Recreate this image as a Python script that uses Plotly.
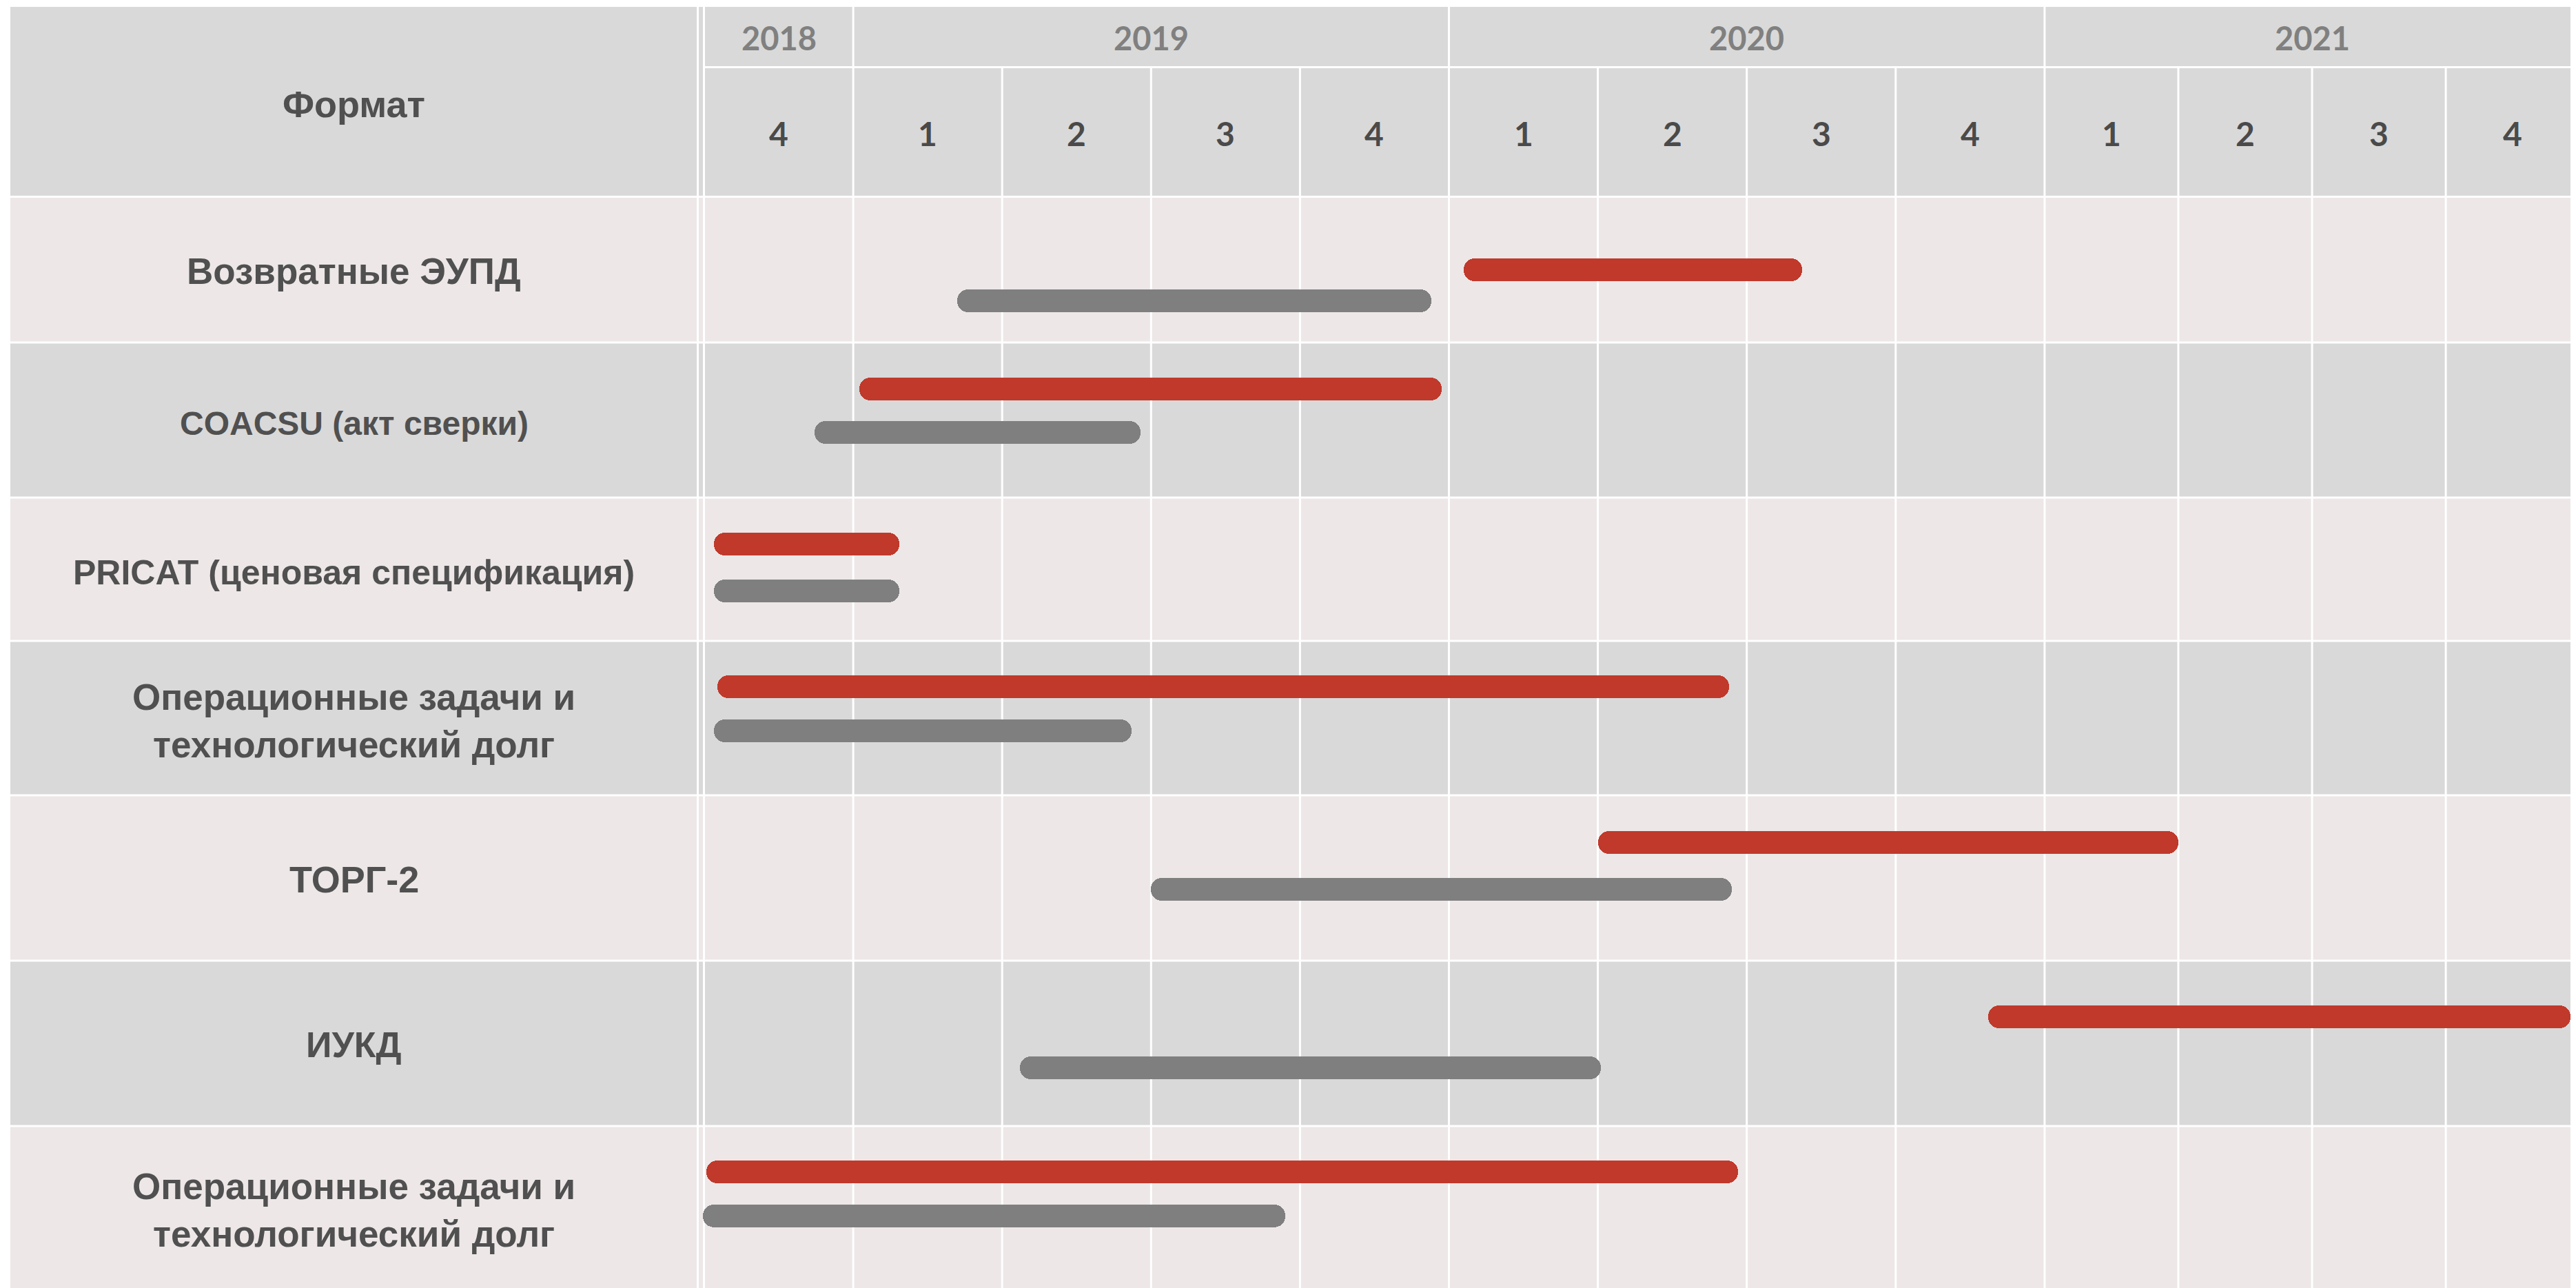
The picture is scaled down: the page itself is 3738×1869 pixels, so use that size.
import math
import plotly.graph_objects as go

# ---------------- DATA ----------------
years = ["2018", "2019", "2020", "2021"]
year_quarters = [["4"], ["1", "2", "3", "4"], ["1", "2", "3", "4"], ["1", "2", "3", "4"]]
header_title = "Формат"
tasks = [
    "Возвратные ЭУПД",
    "COACSU (акт сверки)",
    "PRICAT (ценовая спецификация)",
    "Операционные задачи и<br>технологический долг",
    "ТОРГ-2",
    "ИУКД",
    "Операционные задачи и<br>технологический долг",
]
# timeline in quarters counted from the start of 2018 Q4 (0 = start of 2018 Q4)
red_start = [5.10, 1.04, 0.065, 0.09, 6.00, 8.62, 0.015]
red_end = [7.37, 4.95, 1.31, 6.88, 10.00, 12.93, 6.94]
gray_start = [1.70, 0.74, 0.065, 0.065, 3.00, 2.12, -0.01]
gray_end = [4.88, 2.93, 1.31, 2.87, 6.90, 6.02, 3.90]

# ---------------- LAYOUT / STYLE ----------------
W, H = 3738, 1869
PAGE_OFF = 8          # browser body margin
PX_Q = 216.1          # pixels per standard quarter column
Q0_PX = 1022          # pixel where quarter area starts
TABLE_LEFT = 15
TABLE_TOP = 10
YEAR_BAND_BOTTOM = 97.5
HEADER_BOTTOM = 285.5
LEFT_COL_LINES = [1012.5, 1021.5]
COL_W = [1.0] * 9 + [0.898] * 4       # relative widths of quarter columns
ROW_EDGES = [285.5, 497, 722, 930, 1154, 1394, 1634, H + 40]
RED_Y = [391, 564, 789, 996, 1222, 1475, 1700]
GRAY_Y = [436, 627, 857, 1060, 1290, 1549, 1764]
LABEL_DY = [2, 5, 5, 4, 2, 2, 4]
LABEL_SIZE = [53, 48, 50, 53, 54, 52, 53]
BAR_T = 33

C_GRAY_CELL = "#D9D9D9"
C_PINK_CELL = "#EDE7E7"
C_RED = "#C0392B"
C_GRAYBAR = "#7F7F7F"
C_TEXT = "#505050"
C_YEAR = "#808080"
C_Q = "#4A4A4A"
LINE_W = 3

edges = [0.0]
for w in COL_W:
    edges.append(edges[-1] + w)


def disp(q):
    i = min(max(int(math.floor(q)), 0), len(COL_W) - 1)
    return edges[i] + (q - i) * COL_W[i]


def px_to_x(px):
    return (px - Q0_PX) / PX_Q


fig = go.Figure()

for starts, ends, ys, col in [(red_start, red_end, RED_Y, C_RED),
                              (gray_start, gray_end, GRAY_Y, C_GRAYBAR)]:
    s = [disp(v) for v in starts]
    e = [disp(v) for v in ends]
    fig.add_trace(go.Bar(orientation="h", y=ys, base=s,
                         x=[b - a for a, b in zip(s, e)], width=BAR_T,
                         marker=dict(color=col, cornerradius="50%", line=dict(width=0)),
                         showlegend=False, hoverinfo="skip"))

shapes = []
x_left = px_to_x(TABLE_LEFT)
x_right = px_to_x(W + 40)
shapes.append(dict(type="rect", xref="x", yref="y", x0=x_left, x1=x_right,
                   y0=TABLE_TOP, y1=HEADER_BOTTOM, fillcolor=C_GRAY_CELL,
                   line=dict(width=0), layer="below"))
for i in range(len(tasks)):
    shapes.append(dict(type="rect", xref="x", yref="y", x0=x_left, x1=x_right,
                       y0=ROW_EDGES[i], y1=ROW_EDGES[i + 1],
                       fillcolor=C_PINK_CELL if i % 2 == 0 else C_GRAY_CELL,
                       line=dict(width=0), layer="below"))
for y in ROW_EDGES[:-1]:
    shapes.append(dict(type="line", xref="x", yref="y", x0=x_left, x1=x_right,
                       y0=y, y1=y, line=dict(color="white", width=LINE_W), layer="below"))
shapes.append(dict(type="line", xref="x", yref="y", x0=0, x1=x_right,
                   y0=YEAR_BAND_BOTTOM, y1=YEAR_BAND_BOTTOM,
                   line=dict(color="white", width=LINE_W), layer="below"))
for px in LEFT_COL_LINES:
    xv = px_to_x(px)
    shapes.append(dict(type="line", xref="x", yref="y", x0=xv, x1=xv,
                       y0=TABLE_TOP, y1=H + 40, line=dict(color="white", width=LINE_W),
                       layer="below"))
year_edge_idx = []
k = 0
for yq in year_quarters:
    k += len(yq)
    year_edge_idx.append(k)
for i in range(1, len(COL_W)):
    top = TABLE_TOP if i in year_edge_idx else YEAR_BAND_BOTTOM
    shapes.append(dict(type="line", xref="x", yref="y", x0=edges[i], x1=edges[i],
                       y0=top, y1=H + 40, line=dict(color="white", width=LINE_W),
                       layer="below"))

annotations = []
label_x = px_to_x((TABLE_LEFT + LEFT_COL_LINES[0]) / 2)
annotations.append(dict(x=label_x, y=(TABLE_TOP + HEADER_BOTTOM) / 2 + 3, xref="x", yref="y",
                        text=header_title, showarrow=False,
                        font=dict(family="Liberation Sans", size=54, color=C_TEXT, weight="bold")))
for i, t in enumerate(tasks):
    yc = (ROW_EDGES[i] + min(ROW_EDGES[i + 1], H)) / 2 + LABEL_DY[i]
    annotations.append(dict(x=label_x, y=yc, xref="x", yref="y", text=t, showarrow=False,
                            align="center",
                            font=dict(family="Liberation Sans", size=LABEL_SIZE[i],
                                      color=C_TEXT, weight="bold")))
col = 0
for yname, qs in zip(years, year_quarters):
    x0 = edges[col]
    x1 = edges[col + len(qs)]
    annotations.append(dict(x=(x0 + x1) / 2, y=(TABLE_TOP + YEAR_BAND_BOTTOM) / 2 + 1,
                            xref="x", yref="y", text=yname, showarrow=False,
                            font=dict(family="Lato", size=47, color=C_YEAR, weight="bold")))
    for q in qs:
        annotations.append(dict(x=(edges[col] + edges[col + 1]) / 2,
                                y=(YEAR_BAND_BOTTOM + HEADER_BOTTOM) / 2 + 2,
                                xref="x", yref="y", text=q, showarrow=False,
                                font=dict(family="Lato", size=48, color=C_Q, weight="bold")))
        col += 1

fig.update_layout(
    width=W, height=H,
    margin=dict(l=0, r=0, t=0, b=0),
    paper_bgcolor="white", plot_bgcolor="white",
    barmode="overlay", bargap=0,
    xaxis=dict(range=[px_to_x(PAGE_OFF), px_to_x(W + PAGE_OFF)], visible=False, fixedrange=True),
    yaxis=dict(range=[H + PAGE_OFF, PAGE_OFF], visible=False, fixedrange=True),
    shapes=shapes, annotations=annotations,
    showlegend=False,
)

fig.write_html("out.html", config={"displayModeBar": False})
